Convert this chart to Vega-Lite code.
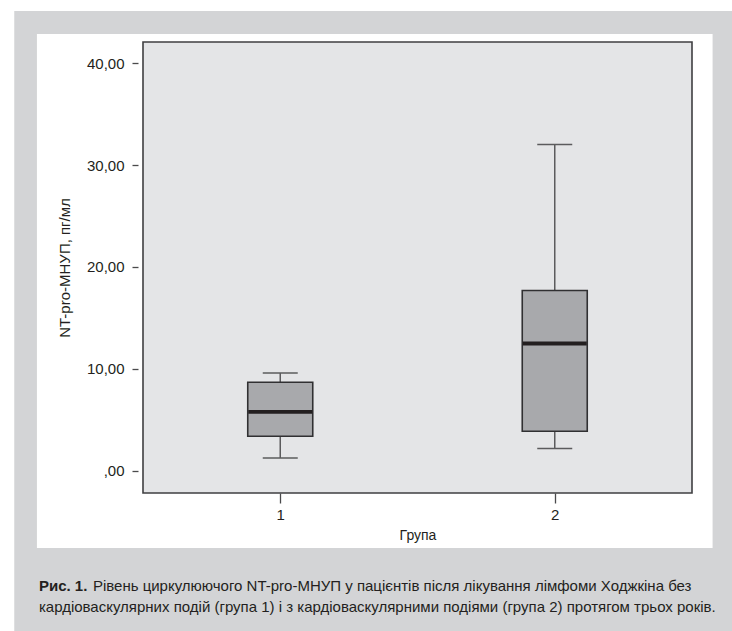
{
  "$schema": "https://vega.github.io/schema/vega-lite/v6.json",
  "width": 559,
  "height": 451,
  "autosize": {"type": "none"},
  "padding": {"left": 138, "top": 42, "right": 35, "bottom": 138},
  "background": "#ffffff",
  "config": {"view": {"stroke": null}, "font": "Liberation Sans"},
  "datasets": {
    "boxes": [
      {"group": 1, "min": 1.27, "q1": 3.4, "median": 5.8, "q3": 8.7, "max": 9.6},
      {"group": 2, "min": 2.2, "q1": 3.9, "median": 12.5, "q3": 17.7, "max": 32.0}
    ]
  },
  "layer": [
    {
      "data": {"values": [{}]},
      "mark": {"type": "rect", "fill": "#d3d4d6"},
      "encoding": {
        "x": {
          "datum": 0.031, "type": "quantitative",
          "scale": {"domain": [0.5, 2.5], "nice": false, "zero": false},
          "axis": {
            "values": [1, 2], "labelExpr": "datum.value", "tickSize": 10, "tickColor": "#4a4a4c", "tickWidth": 1.3,
            "domain": false, "grid": false, "labelFontSize": 15, "labelColor": "#231f20", "labelPadding": 4,
            "title": "Група", "titleFontSize": 14, "titleFontWeight": "normal", "titleColor": "#231f20", "titlePadding": 6, "zindex": 1
          }
        },
        "x2": {"datum": 2.7},
        "y": {
          "datum": 45.1, "type": "quantitative",
          "scale": {"domain": [-2.16, 42.06], "nice": false, "zero": false},
          "axis": {
            "values": [0, 10, 20, 30, 40], "labelExpr": "datum.value == 0 ? ',00' : datum.value + ',00'",
            "tickSize": 6, "tickColor": "#4a4a4c", "tickWidth": 1.3, "domain": false, "grid": false,
            "labelFontSize": 15, "labelColor": "#231f20", "labelPadding": 8,
            "title": "NT-pro-МНУП, пг/мл", "titleFontSize": 15, "titleFontWeight": "normal", "titleColor": "#231f20", "titlePadding": 14, "zindex": 1
          }
        },
        "y2": {"datum": -18}
      }
    },
    {
      "data": {"values": [{}]},
      "mark": {"type": "rect", "fill": "#ffffff"},
      "encoding": {
        "x": {"datum": 0.1136, "type": "quantitative"},
        "x2": {"datum": 2.575},
        "y": {"datum": 42.84, "type": "quantitative"},
        "y2": {"datum": -7.55}
      }
    },
    {
      "data": {"values": [{}]},
      "mark": {"type": "rect", "fill": "#e4e5e7", "stroke": "#3f3f41", "strokeWidth": 1.6},
      "encoding": {
        "x": {"datum": 0.5, "type": "quantitative"},
        "x2": {"datum": 2.5},
        "y": {"datum": 42.06, "type": "quantitative"},
        "y2": {"datum": -2.16}
      }
    },
    {
      "data": {"name": "boxes"},
      "mark": {"type": "rule", "color": "#5b5b5d", "strokeWidth": 1.5},
      "encoding": {
        "x": {"field": "group", "type": "quantitative"},
        "y": {"field": "q3", "type": "quantitative"},
        "y2": {"field": "max"}
      }
    },
    {
      "data": {"name": "boxes"},
      "mark": {"type": "rule", "color": "#5b5b5d", "strokeWidth": 1.5},
      "encoding": {
        "x": {"field": "group", "type": "quantitative"},
        "y": {"field": "min", "type": "quantitative"},
        "y2": {"field": "q1"}
      }
    },
    {
      "data": {"name": "boxes"},
      "mark": {"type": "tick", "orient": "horizontal", "color": "#5b5b5d", "size": 35, "thickness": 1.5, "opacity": 1},
      "encoding": {
        "x": {"field": "group", "type": "quantitative"},
        "y": {"field": "max", "type": "quantitative"}
      }
    },
    {
      "data": {"name": "boxes"},
      "mark": {"type": "tick", "orient": "horizontal", "color": "#5b5b5d", "size": 35, "thickness": 1.5, "opacity": 1},
      "encoding": {
        "x": {"field": "group", "type": "quantitative"},
        "y": {"field": "min", "type": "quantitative"}
      }
    },
    {
      "data": {"name": "boxes"},
      "mark": {"type": "bar", "width": 65, "fill": "#a8a9ac", "stroke": "#303032", "strokeWidth": 1.6},
      "encoding": {
        "x": {"field": "group", "type": "quantitative"},
        "y": {"field": "q1", "type": "quantitative"},
        "y2": {"field": "q3"}
      }
    },
    {
      "data": {"name": "boxes"},
      "mark": {"type": "tick", "orient": "horizontal", "color": "#231f20", "size": 64, "thickness": 3.8, "opacity": 1},
      "encoding": {
        "x": {"field": "group", "type": "quantitative"},
        "y": {"field": "median", "type": "quantitative"}
      }
    },
    {
      "data": {"values": [{"t": "Рис. 1."}]},
      "mark": {"type": "text", "font": "Liberation Sans", "fontSize": 15, "fontWeight": "bold", "align": "left", "baseline": "alphabetic", "color": "#231f20"},
      "encoding": {
        "x": {"datum": 0.1208, "type": "quantitative"},
        "y": {"datum": -11.8, "type": "quantitative"},
        "text": {"field": "t"}
      }
    },
    {
      "data": {"values": [{"t": "Рівень циркулюючого NT-pro-МНУП у пацієнтів після лікування лімфоми Ходжкіна без"}]},
      "mark": {"type": "text", "font": "Liberation Sans", "fontSize": 15, "align": "left", "baseline": "alphabetic", "color": "#231f20"},
      "encoding": {
        "x": {"datum": 0.3175, "type": "quantitative"},
        "y": {"datum": -11.8, "type": "quantitative"},
        "text": {"field": "t"}
      }
    },
    {
      "data": {"values": [{"t": "кардіоваскулярних подій (група 1) і з кардіоваскулярними подіями (група 2) протягом трьох років."}]},
      "mark": {"type": "text", "font": "Liberation Sans", "fontSize": 15, "align": "left", "baseline": "alphabetic", "color": "#231f20"},
      "encoding": {
        "x": {"datum": 0.1208, "type": "quantitative"},
        "y": {"datum": -13.8, "type": "quantitative"},
        "text": {"field": "t"}
      }
    }
  ]
}
